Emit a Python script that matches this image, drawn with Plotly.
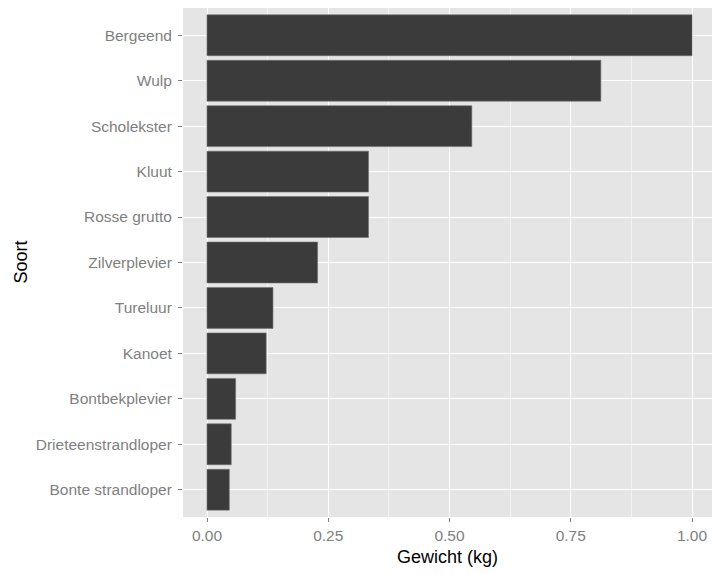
import plotly.graph_objects as go

soorten = ["Bergeend", "Wulp", "Scholekster", "Kluut", "Rosse grutto", "Zilverplevier",
           "Tureluur", "Kanoet", "Bontbekplevier", "Drieteenstrandloper", "Bonte strandloper"]
gewicht = [1.00, 0.812, 0.546, 0.333, 0.333, 0.228, 0.136, 0.122, 0.059, 0.050, 0.046]
x_ticks = [0, 0.25, 0.5, 0.75, 1.0]
x_ticklabels = ["0.00", "0.25", "0.50", "0.75", "1.00"]

order = list(reversed(soorten))

fig = go.Figure(go.Bar(
    x=gewicht, y=soorten, orientation="h", width=0.9,
    marker=dict(color="#3b3b3b", line=dict(color="#707070", width=0.6)),
))

font = "Liberation Sans, Arial, sans-serif"
fig.update_layout(
    width=712, height=574,
    margin=dict(l=183, r=0, t=8, b=57),
    paper_bgcolor="white", plot_bgcolor="#E5E5E5",
    showlegend=False,
    font=dict(family=font),
    bargap=0.1,
    annotations=[
        dict(text="Gewicht (kg)", xref="paper", yref="paper", x=0.5, y=0,
             xanchor="center", yanchor="top", yshift=-28, showarrow=False,
             font=dict(size=18, color="black", family=font)),
        dict(text="Soort", xref="paper", yref="paper", x=0, y=0.5,
             xanchor="center", yanchor="middle", xshift=-163, textangle=-90,
             showarrow=False, font=dict(size=18, color="black", family=font)),
    ],
)
fig.update_xaxes(
    range=[-0.0495, 1.0412], automargin=False,
    tickvals=x_ticks, ticktext=x_ticklabels,
    ticks="outside", ticklen=4, tickwidth=1, tickcolor="#7F7F7F",
    tickfont=dict(size=15.5, color="#7F7F7F", family=font),
    showgrid=True, gridcolor="white", gridwidth=1.2,
    minor=dict(dtick=0.125, tick0=0.125, showgrid=True, gridcolor="#F2F2F2", gridwidth=0.6, ticks=""),
    zeroline=False, showline=False,
)
fig.update_yaxes(
    type="category", categoryorder="array", categoryarray=order,
    range=[-0.6, 10.6], automargin=False,
    ticks="outside", ticklen=4, tickwidth=1, tickcolor="#7F7F7F",
    tickfont=dict(size=15.5, color="#7F7F7F", family=font),
    ticklabelstandoff=3,
    showgrid=True, gridcolor="white", gridwidth=1.2,
    zeroline=False, showline=False,
)

fig.write_html(
    "out.html",
    config={"displayModeBar": False},
    post_script="document.body.style.margin='0';document.body.style.overflow='hidden';",
)
